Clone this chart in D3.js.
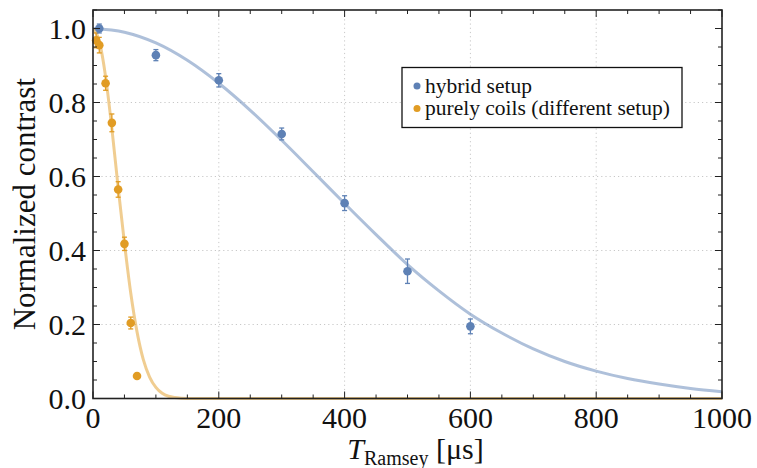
<!DOCTYPE html>
<html><head><meta charset="utf-8">
<script src="https://cdn.jsdelivr.net/npm/d3@7"></script>
<style>body{margin:0;background:#fff}svg{display:block}</style>
</head><body>
<script>
// ---- data ----
const hybridT = [10, 100, 200, 300, 400, 500, 600];
const hybridV = [1.0, 0.928, 0.860, 0.715, 0.528, 0.344, 0.195];
const hybridErr = [0.012, 0.015, 0.018, 0.016, 0.02, 0.033, 0.02];
const coilsT = [5, 10, 20, 30, 40, 50, 60, 70];
const coilsV = [0.968, 0.955, 0.852, 0.745, 0.565, 0.418, 0.204, 0.061];
const coilsErr = [0.02, 0.021, 0.019, 0.024, 0.021, 0.018, 0.016, 0.005];
const hybridFitT = [0,50,100,150,200,250,300,350,400,450,500,550,600,650,700,750,800,850,900,950,1000];
const hybridFitV = [1.0,0.990,0.961,0.914,0.852,0.779,0.698,0.613,0.527,0.443,0.362,0.291,0.228,0.177,0.134,0.100,0.074,0.054,0.039,0.027,0.018];
const coilsFitT = [0,10,20,30,40,50,60,70,80,90,100,110,120,130,140,160,200,1000];
const coilsFitV = [1.0,0.966,0.87,0.73,0.57,0.42,0.285,0.18,0.105,0.058,0.03,0.014,0.006,0.0025,0.001,0,0,0];
const xTicks = [0, 200, 400, 600, 800, 1000];
const yTicks = [0, 0.2, 0.4, 0.6, 0.8, 1.0];
const yTickLabels = ["0.0", "0.2", "0.4", "0.6", "0.8", "1.0"];
const legendLabels = ["hybrid setup", "purely coils (different setup)"];
const colors = ["#5E81B5", "#E19C24"];

const FONT = "'Liberation Serif', 'Times New Roman', 'DejaVu Serif', serif";
const W = 757, H = 468;
const m = {l: 93, r: 35, t: 10, b: 69.5};
const svg = d3.select("body").append("svg").attr("width", W).attr("height", H)
  .attr("font-family", FONT).style("font-family", FONT);
const x = d3.scaleLinear().domain([0, 1000]).range([m.l, W - m.r]);
const y = d3.scaleLinear().domain([0, 1.05]).range([H - m.b, m.t]);

// grid
const g = svg.append("g");
g.selectAll(".gx").data(xTicks.filter(d => d > 0 && d < 1000)).join("line")
  .attr("x1", d => x(d)).attr("x2", d => x(d)).attr("y1", y(0)).attr("y2", y(1.05))
  .attr("stroke", "#c8c8c8").attr("stroke-width", 1).attr("stroke-dasharray", "1.2,3");
g.selectAll(".gy").data(yTicks.filter(d => d > 0 && d < 1)).join("line")
  .attr("y1", d => y(d)).attr("y2", d => y(d)).attr("x1", x(0)).attr("x2", x(1000))
  .attr("stroke", "#c8c8c8").attr("stroke-width", 1).attr("stroke-dasharray", "1.2,3");

// fit curves
svg.append("clipPath").attr("id", "c").append("rect")
  .attr("x", x(0)).attr("y", y(1.05)).attr("width", x(1000) - x(0)).attr("height", y(0) - y(1.05) + 2);
const line = d3.line().x(d => x(d[0])).y(d => y(d[1])).curve(d3.curveMonotoneX);
svg.append("path").attr("clip-path", "url(#c)")
  .attr("d", line(hybridFitT.map((t, i) => [t, hybridFitV[i]])))
  .attr("fill", "none").attr("stroke", colors[0]).attr("stroke-opacity", 0.5).attr("stroke-width", 3);
svg.append("path").attr("clip-path", "url(#c)")
  .attr("d", line(coilsFitT.map((t, i) => [t, coilsFitV[i]])))
  .attr("fill", "none").attr("stroke", colors[1]).attr("stroke-opacity", 0.5).attr("stroke-width", 3);

// points with error bars
function drawSeries(T, V, E, col) {
  const s = svg.append("g");
  T.forEach((t, i) => {
    const cx = x(t), y1 = y(V[i] + E[i]), y2 = y(V[i] - E[i]);
    s.append("line").attr("x1", cx).attr("x2", cx).attr("y1", y1).attr("y2", y2).attr("stroke", col).attr("stroke-width", 1.3);
    [y1, y2].forEach(yy => s.append("line").attr("x1", cx - 2.5).attr("x2", cx + 2.5).attr("y1", yy).attr("y2", yy).attr("stroke", col).attr("stroke-width", 1.3));
    s.append("circle").attr("cx", cx).attr("cy", y(V[i])).attr("r", 4.3).attr("fill", col);
  });
}
drawSeries(coilsT, coilsV, coilsErr, colors[1]);
drawSeries(hybridT, hybridV, hybridErr, colors[0]);

// frame
const fr = svg.append("g");
fr.append("rect").attr("x", x(0)).attr("y", y(1.05)).attr("width", x(1000) - x(0)).attr("height", y(0) - y(1.05))
  .attr("fill", "none").attr("stroke", "#222").attr("stroke-width", 1.6);
const xMinor = d3.range(0, 1001, 50);
const yMinor = d3.range(0, 1.051, 0.05);
xMinor.forEach(v => {
  const L = (v % 200 === 0) ? 7 : 4;
  fr.append("line").attr("x1", x(v)).attr("x2", x(v)).attr("y1", y(0)).attr("y2", y(0) - L).attr("stroke", "#222").attr("stroke-width", 1);
  fr.append("line").attr("x1", x(v)).attr("x2", x(v)).attr("y1", y(1.05)).attr("y2", y(1.05) + L).attr("stroke", "#222").attr("stroke-width", 1);
});
yMinor.forEach(v => {
  const major = Math.abs(Math.round(v * 5) - v * 5) < 1e-6;
  const L = major ? 7 : 4;
  fr.append("line").attr("y1", y(v)).attr("y2", y(v)).attr("x1", x(0)).attr("x2", x(0) + L).attr("stroke", "#222").attr("stroke-width", 1);
  fr.append("line").attr("y1", y(v)).attr("y2", y(v)).attr("x1", x(1000)).attr("x2", x(1000) - L).attr("stroke", "#222").attr("stroke-width", 1);
});
// tick labels
svg.selectAll(".xl").data(xTicks).join("text").attr("x", d => x(d)).attr("y", y(0) + 29)
  .attr("text-anchor", "middle").attr("font-size", 30).attr("fill", "#111").text(d => d);
svg.selectAll(".yl").data(yTicks).join("text").attr("x", x(0) - 7).attr("y", d => y(d) + 10)
  .attr("text-anchor", "end").attr("font-size", 30).attr("fill", "#111").text((d, i) => yTickLabels[i]);

// axis labels
svg.append("text").attr("transform", `translate(35,${(y(0) + y(1.05)) / 2}) rotate(-90)`)
  .attr("text-anchor", "middle").attr("font-size", 31).attr("fill", "#111").text("Normalized contrast");
const xl = svg.append("text").attr("x", (x(0) + x(1000)) / 2 + 8).attr("y", 459).attr("text-anchor", "middle").attr("font-size", 30).attr("fill", "#111");
xl.append("tspan").attr("font-style", "italic").text("T");
xl.append("tspan").attr("font-size", 20).attr("dy", 6).text("Ramsey");
xl.append("tspan").attr("dy", -6).text(" [μs]");

// legend
const lg = svg.append("g");
lg.append("rect").attr("x", 402).attr("y", 67.5).attr("width", 280).attr("height", 60)
  .attr("fill", "#fff").attr("stroke", "#111").attr("stroke-width", 1.3);
legendLabels.forEach((t, i) => {
  lg.append("circle").attr("cx", 417).attr("cy", 86 + i * 22.5).attr("r", 3.5).attr("fill", colors[i]);
  lg.append("text").attr("x", 425).attr("y", 92.5 + i * 22.5).attr("font-size", 21.5).attr("fill", "#111").text(t);
});
</script>
</body></html>
